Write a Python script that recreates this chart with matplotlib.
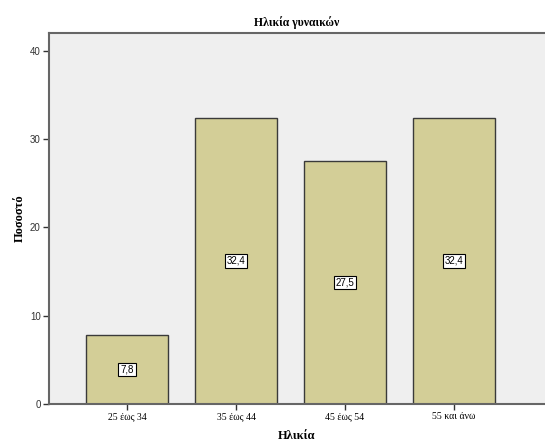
import matplotlib
matplotlib.use("Agg")
import matplotlib.pyplot as plt

categories = ["25 έως 34", "35 έως 44", "45 έως 54", "55 και άνω"]
values = [7.8, 32.4, 27.5, 32.4]
value_labels = ["7,8", "32,4", "27,5", "32,4"]
yticks = [0, 10, 20, 30, 40]

fig = plt.figure(figsize=(5.45, 4.42), dpi=100)
fig.patch.set_facecolor("white")
ax = fig.add_axes([49/545, 38/442, 1 - 49/545, (404-33)/442])
ax.set_facecolor("#EFEFEF")

x = list(range(len(categories)))
ax.bar(x, values, width=0.752, color="#D3CE97", edgecolor="#3a3a3a", linewidth=1.0, zorder=2)

for xi, v, lab in zip(x, values, value_labels):
    ax.text(xi, v / 2, lab, ha="center", va="center", fontsize=7, family="Liberation Sans",
            bbox=dict(boxstyle="square,pad=0.2", fc="white", ec="black", lw=0.8), zorder=3)

ax.set_xlim(-0.716, 3.835)
ax.set_ylim(0, 42)
ax.set_yticks(yticks)
ax.set_yticklabels([str(t) for t in yticks], family="Liberation Sans", fontsize=7, color="#333333")
ax.set_xticks(x)
ax.set_xticklabels(categories, family="Liberation Serif", fontsize=7)
ax.tick_params(axis="both", direction="out", length=4, width=1, color="#333333", pad=2)

for s in ["left", "top", "bottom"]:
    ax.spines[s].set_color("#666666")
    ax.spines[s].set_linewidth(1.5)
ax.spines["right"].set_visible(False)

ax.set_title("Ηλικία γυναικών", family="Liberation Serif", fontweight="bold", fontsize=8.5, pad=5)
ax.set_xlabel("Ηλικία", family="Liberation Serif", fontweight="bold", fontsize=9, labelpad=6)
ax.set_ylabel("Ποσοστό", family="Liberation Serif", fontweight="bold", fontsize=9, labelpad=3)

fig.savefig("out.png", dpi=100)
